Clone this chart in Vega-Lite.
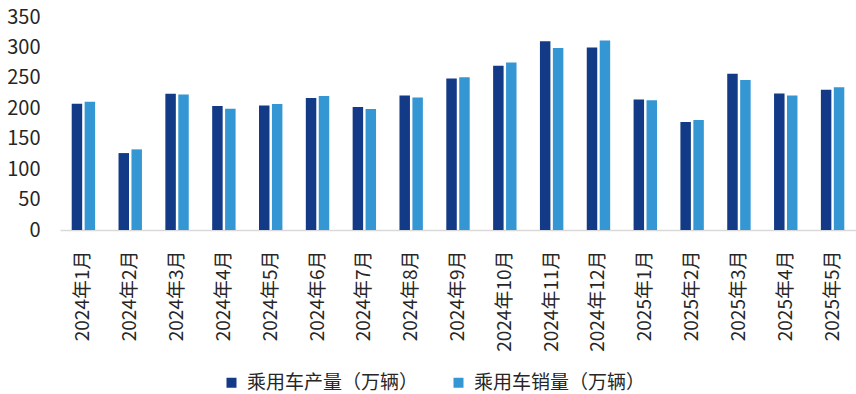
{
  "$schema": "https://vega.github.io/schema/vega-lite/v6.json",
  "width": 796,
  "height": 213,
  "autosize": {"type": "none"},
  "padding": {"left": 60, "top": 17, "right": 0, "bottom": 164},
  "background": "#ffffff",
  "config": {
    "view": {"stroke": null},
    "font": "Noto Sans CJK SC",
    "axis": {"labelFont": "Noto Sans CJK SC", "labelColor": "#262626", "grid": false, "ticks": false}
  },
  "data": {
    "values": [
      {"month": "2024年1月", "series": "乘用车产量（万辆）", "value": 207.4},
      {"month": "2024年1月", "series": "乘用车销量（万辆）", "value": 210.7},
      {"month": "2024年2月", "series": "乘用车产量（万辆）", "value": 126.4},
      {"month": "2024年2月", "series": "乘用车销量（万辆）", "value": 132.5},
      {"month": "2024年3月", "series": "乘用车产量（万辆）", "value": 223.8},
      {"month": "2024年3月", "series": "乘用车销量（万辆）", "value": 222.8},
      {"month": "2024年4月", "series": "乘用车产量（万辆）", "value": 203.6},
      {"month": "2024年4月", "series": "乘用车销量（万辆）", "value": 199.2},
      {"month": "2024年5月", "series": "乘用车产量（万辆）", "value": 204.7},
      {"month": "2024年5月", "series": "乘用车销量（万辆）", "value": 206.9},
      {"month": "2024年6月", "series": "乘用车产量（万辆）", "value": 216.7},
      {"month": "2024年6月", "series": "乘用车销量（万辆）", "value": 220.0},
      {"month": "2024年7月", "series": "乘用车产量（万辆）", "value": 202.0},
      {"month": "2024年7月", "series": "乘用车销量（万辆）", "value": 198.7},
      {"month": "2024年8月", "series": "乘用车产量（万辆）", "value": 221.2},
      {"month": "2024年8月", "series": "乘用车销量（万辆）", "value": 217.9},
      {"month": "2024年9月", "series": "乘用车产量（万辆）", "value": 249.0},
      {"month": "2024年9月", "series": "乘用车销量（万辆）", "value": 251.0},
      {"month": "2024年10月", "series": "乘用车产量（万辆）", "value": 269.8},
      {"month": "2024年10月", "series": "乘用车销量（万辆）", "value": 275.3},
      {"month": "2024年11月", "series": "乘用车产量（万辆）", "value": 310.3},
      {"month": "2024年11月", "series": "乘用车销量（万辆）", "value": 298.9},
      {"month": "2024年12月", "series": "乘用车产量（万辆）", "value": 300.0},
      {"month": "2024年12月", "series": "乘用车销量（万辆）", "value": 311.5},
      {"month": "2025年1月", "series": "乘用车产量（万辆）", "value": 214.6},
      {"month": "2025年1月", "series": "乘用车销量（万辆）", "value": 213.0},
      {"month": "2025年2月", "series": "乘用车产量（万辆）", "value": 177.3},
      {"month": "2025年2月", "series": "乘用车销量（万辆）", "value": 180.6},
      {"month": "2025年3月", "series": "乘用车产量（万辆）", "value": 256.7},
      {"month": "2025年3月", "series": "乘用车销量（万辆）", "value": 246.3},
      {"month": "2025年4月", "series": "乘用车产量（万辆）", "value": 224.5},
      {"month": "2025年4月", "series": "乘用车销量（万辆）", "value": 221.2},
      {"month": "2025年5月", "series": "乘用车产量（万辆）", "value": 230.5},
      {"month": "2025年5月", "series": "乘用车销量（万辆）", "value": 234.4}
    ]
  },
  "mark": {"type": "bar"},
  "encoding": {
    "x": {
      "field": "month",
      "type": "nominal",
      "sort": null,
      "title": null,
      "scale": {"paddingInner": 0.5, "paddingOuter": 0.25},
      "axis": {
        "labelAngle": -90,
        "labelFontSize": 19,
        "labelPadding": 20,
        "domain": true,
        "domainColor": "#d9d9d9",
        "domainWidth": 1.5,
        "labelLimit": 200
      }
    },
    "xOffset": {
      "field": "series",
      "type": "nominal",
      "scale": {"paddingInner": 0.19, "paddingOuter": 0}
    },
    "y": {
      "field": "value",
      "type": "quantitative",
      "title": null,
      "scale": {"domain": [0, 350], "nice": false},
      "axis": {
        "values": [0, 50, 100, 150, 200, 250, 300, 350],
        "labelFontSize": 20,
        "labelPadding": 20,
        "domain": false
      }
    },
    "color": {
      "field": "series",
      "type": "nominal",
      "scale": {
        "domain": ["乘用车产量（万辆）", "乘用车销量（万辆）"],
        "range": ["#123a87", "#3497d4"]
      },
      "legend": {
        "title": null,
        "orient": "none",
        "direction": "horizontal",
        "legendX": 162,
        "legendY": 356,
        "symbolType": "square",
        "symbolSize": 100,
        "symbolStrokeWidth": 0,
        "labelFont": "Noto Sans CJK SC",
        "labelFontSize": 19,
        "labelColor": "#262626",
        "labelOffset": 6,
        "columnPadding": 30,
        "labelLimit": 300
      }
    }
  }
}
